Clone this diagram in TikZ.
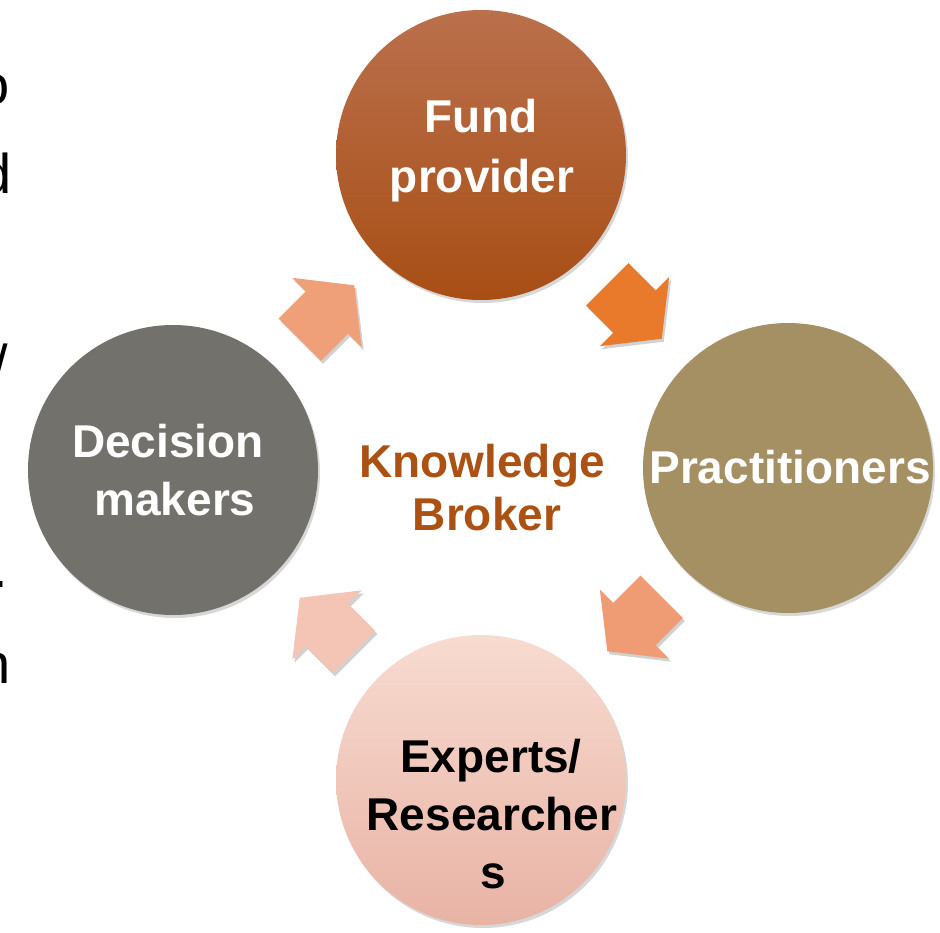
\documentclass[tikz,border=0pt]{standalone}
\usepackage{fontspec}
\setmainfont{Liberation Sans}
\usetikzlibrary{shadows,calc}
\definecolor{fpTop}{HTML}{BA704C}
\definecolor{fpBot}{HTML}{A84E15}
\definecolor{prCol}{HTML}{A49063}
\definecolor{exTop}{HTML}{F8DBD0}
\definecolor{exBot}{HTML}{E8B3A5}
\definecolor{dmCol}{HTML}{73716B}
\definecolor{kbCol}{HTML}{AB5113}
\definecolor{arOne}{HTML}{F0A078}
\definecolor{arTwo}{HTML}{E9792B}
\definecolor{arThree}{HTML}{EF9B73}
\definecolor{arFour}{HTML}{F4C4B4}
\tikzset{
  blockarrow/.pic={
    \path[pic actions] (-38.5,-30) -- (0,-30) -- (0,-49) -- (38.5,0) -- (0,49) -- (0,30) -- (-38.5,30) -- cycle;
  }
}
\begin{document}
\begin{tikzpicture}[x=1pt,y=-1pt,
  bubble/.style={circle, minimum size=290pt, inner sep=0pt, draw=none,
    drop shadow={shadow xshift=2pt, shadow yshift=-3pt, opacity=0.22, fill=black!70}},
  lbl/.style={font=\fontsize{46}{55}\selectfont\bfseries, text=white, inner sep=0pt, anchor=base},
  frag/.style={font=\fontsize{56}{60}\selectfont, text=black, inner sep=0pt, anchor=base east},
  arshadow/.style={fill=black, opacity=0.18},
]
\useasboundingbox (0,0) rectangle (940,932);
\clip (0,0) rectangle (940,932);
\fill[white] (0,0) rectangle (940,932);

% cut-off text at the left edge
\node[frag] (f1) at (10.2,104) {o};
\node[frag] (f2) at (12,193) {d};
\node[frag] (f3) at (8,384) {/};
\node[frag] (f4) at (8.4,587) {.};
\node[frag] (f5) at (11.1,683) {n};

% circles
\node[bubble, top color=fpTop, bottom color=fpBot] (fp) at (481,155) {};
\node[bubble, fill=prCol] (pr) at (788,468) {};
\node[bubble, top color=exTop, bottom color=exBot] (ex) at (481,780) {};
\node[bubble, fill=dmCol] (dm) at (173,470) {};

% block arrows (shadows first)
\pic[arshadow, rotate=45] at ($(dm)!0.5!(fp)+(2,3)$) {blockarrow};
\pic[arshadow, rotate=-45] at ($(fp)!0.5!(pr)+(2,3)$) {blockarrow};
\pic[arshadow, rotate=-135] at ($(pr)!0.5!(ex)+(2,3)$) {blockarrow};
\pic[arshadow, rotate=135] at ($(ex)!0.5!(dm)+(2,3)$) {blockarrow};
\pic[fill=arOne, rotate=45] (a1) at ($(dm)!0.5!(fp)$) {blockarrow};
\pic[fill=arTwo, rotate=-45] (a2) at ($(fp)!0.5!(pr)$) {blockarrow};
\pic[fill=arThree, rotate=-135] (a3) at ($(pr)!0.5!(ex)$) {blockarrow};
\pic[fill=arFour, rotate=135] (a4) at ($(ex)!0.5!(dm)$) {blockarrow};

% labels
\node[lbl] (fpa) at (481,132) {Fund};
\node[lbl] (fpb) at (482,192) {provider};
\node[lbl] (pra) at (790,483) {Practitioners};
\node[lbl] (dma) at (168,457) {Decision};
\node[lbl] (dmb) at (175,515) {makers};
\node[lbl, text=black] (exa) at (491,772) {Experts/};
\node[lbl, text=black] (exb) at (492,830) {Researcher};
\node[lbl, text=black] (exc) at (493,888) {s};
\node[lbl, text=kbCol] (kba) at (482,477) {Knowledge};
\node[lbl, text=kbCol] (kbb) at (487,530) {Broker};
\end{tikzpicture}
\end{document}
